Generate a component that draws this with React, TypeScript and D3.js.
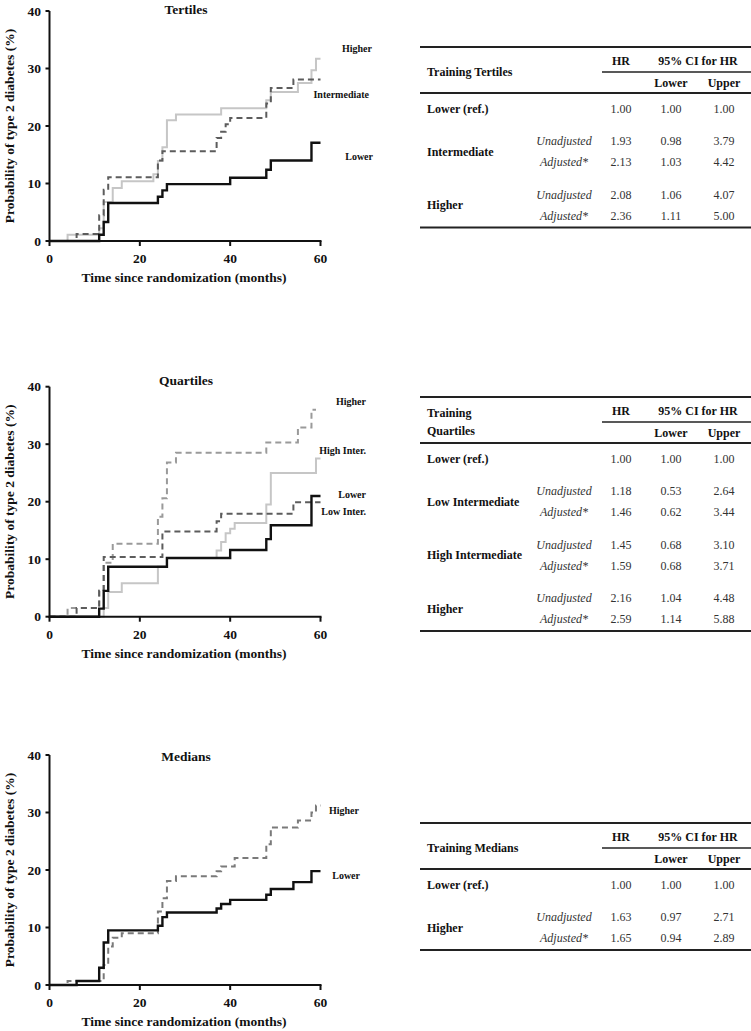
import React from "react";
import * as d3 from "d3";

// step curves: [month, cumulative probability %]
const tertLower = [[0, 0], [11, 1.1], [12, 3.3], [13, 6.6], [24, 7.7], [25, 8.8], [26, 9.9], [40, 11.0], [48, 12.4], [49, 14.0], [58, 17.1], [60, 17.1]];
const tertInter = [[0, 0], [6, 1.2], [11, 4.5], [12, 8.9], [13, 11.1], [24, 14.0], [25, 15.6], [37, 17.9], [38, 19.0], [39, 20.3], [40, 21.4], [48, 23.9], [49, 26.6], [54, 28.1], [60, 28.1]];
const tertHigher = [[0, 0], [4, 1.1], [11, 2.2], [12, 6.8], [14, 9.2], [16, 10.4], [23, 11.6], [24, 13.9], [25, 16.3], [26, 21.0], [28, 22.0], [38, 23.1], [48, 24.5], [49, 25.9], [55, 27.5], [58, 29.7], [59, 31.7], [60, 31.7]];

const quartLower = [[0, 0], [11, 1.4], [12, 4.5], [13, 8.7], [26, 10.2], [40, 11.6], [48, 13.5], [49, 15.9], [58, 21.0], [60, 21.0]];
const quartLowInter = [[0, 0], [6, 1.5], [11, 4.5], [12, 10.4], [25, 14.8], [37, 16.6], [38, 17.9], [54, 19.9], [60, 19.9]];
const quartHighInter = [[0, 0], [12, 1.5], [13, 4.3], [16, 5.8], [24, 8.7], [26, 10.2], [37, 11.5], [38, 13.0], [39, 14.5], [40, 15.3], [41, 16.3], [48, 19.5], [49, 25.0], [59, 27.5], [60, 27.5]];
const quartHigher = [[0, 0], [4, 1.5], [11, 4.5], [12, 9.4], [14, 12.7], [24, 17.4], [25, 20.6], [26, 26.8], [28, 28.5], [48, 30.3], [55, 32.9], [58, 36.0], [59, 36.0]];

const medLower = [[0, 0], [6, 0.7], [11, 3.0], [12, 7.4], [13, 9.5], [24, 10.3], [25, 11.8], [26, 12.6], [37, 13.3], [38, 14.1], [40, 14.8], [48, 15.7], [49, 16.7], [54, 17.9], [58, 19.8], [60, 19.8]];
const medHigher = [[0, 0], [4, 0.7], [12, 3.5], [13, 6.7], [14, 8.2], [16, 9.0], [24, 12.8], [25, 15.1], [26, 18.1], [28, 18.9], [37, 19.8], [38, 20.6], [41, 22.1], [48, 24.5], [49, 27.4], [55, 28.6], [58, 30.0], [59, 31.2], [60, 31.2]];

const xTicks = [0, 20, 40, 60];
const yTicks = [0, 10, 20, 30, 40];

// table values
const tertGroups = ["Lower (ref.)", "Intermediate", "Higher"];
const tertHR = [[1.00], [1.93, 2.13], [2.08, 2.36]];
const tertLo = [[1.00], [0.98, 1.03], [1.06, 1.11]];
const tertUp = [[1.00], [3.79, 4.42], [4.07, 5.00]];

const quartGroups = ["Lower (ref.)", "Low Intermediate", "High Intermediate", "Higher"];
const quartHR = [[1.00], [1.18, 1.46], [1.45, 1.59], [2.16, 2.59]];
const quartLo = [[1.00], [0.53, 0.62], [0.68, 0.68], [1.04, 1.14]];
const quartUp = [[1.00], [2.64, 3.44], [3.10, 3.71], [4.48, 5.88]];

const medGroups = ["Lower (ref.)", "Higher"];
const medHR = [[1.00], [1.63, 1.65]];
const medLo = [[1.00], [0.97, 0.94]];
const medUp = [[1.00], [2.71, 2.89]];

const subLabels = ["Unadjusted", "Adjusted*"];

const FONT = "'Liberation Serif', 'Times New Roman', serif";

const x = d3.scaleLinear().domain([0, 60]).range([49.5, 320.5]);

const KMPanel = ({ top, title, titleY, series, labels }) => {
  const y = d3.scaleLinear().domain([0, 40]).range([top + 230, top]);
  const line = d3.line().x(d => x(d[0])).y(d => y(d[1])).curve(d3.curveStepAfter);
  const y0 = y(0);
  return (
    <g fontFamily={FONT} fill="#111">
      <text x={186} y={titleY} textAnchor="middle" fontWeight="bold" fontSize={13.5}>{title}</text>
      {series.map((s, i) => (
        <path key={i} d={line(s.data)} fill="none" stroke={s.color} strokeWidth={s.width}
          strokeDasharray={s.dash || null} />
      ))}
      <line x1={x(0)} x2={x(0)} y1={y(40)} y2={y0 + 1} stroke="#111" strokeWidth={2} />
      <line x1={x(0) - 1} x2={x(60) + 1} y1={y0} y2={y0} stroke="#111" strokeWidth={2} />
      {yTicks.map(t => (
        <g key={t}>
          <line x1={x(0) - 4} x2={x(0)} y1={y(t)} y2={y(t)} stroke="#111" strokeWidth={2} />
          <text x={41} y={y(t)} dy="0.35em" textAnchor="end" fontWeight="bold" fontSize={13.5}>{t}</text>
        </g>
      ))}
      {xTicks.map(t => (
        <g key={t}>
          <line x1={x(t)} x2={x(t)} y1={y0} y2={y0 + 5} stroke="#111" strokeWidth={2} />
          <text x={x(t)} y={y0 + 22} textAnchor="middle" fontWeight="bold" fontSize={13.5}>{t}</text>
        </g>
      ))}
      <text x={184} y={y0 + 41} textAnchor="middle" fontWeight="bold" fontSize={13.5}>Time since randomization (months)</text>
      <text transform={`translate(9.5,${(y(40) + y0) / 2}) rotate(-90)`} textAnchor="middle" dy="0.35em"
        fontWeight="bold" fontSize={13.5}>Probability of type 2 diabetes (%)</text>
      {labels.map((l, i) => (
        <text key={i} x={l.x} y={l.y} dy="0.35em" textAnchor="end" fontWeight="bold" fontSize={10}>{l.text}</text>
      ))}
    </g>
  );
};

const HRTable = ({ top, titleLines, groups, hr, lo, up }) => {
  const L = 420, R = 751;
  const cHR = 621, cLo = 671, cUp = 724, cSub = 564;
  const refY = top + 62;
  const rows = [];
  groups.forEach((g, gi) => {
    if (gi === 0) {
      rows.push({ label: g, labelY: refY, items: [{ sub: "", y: refY, i: 0 }] });
    } else {
      const uy = top + 94 + (gi - 1) * 53.5;
      rows.push({
        label: g, labelY: uy + 10.5,
        items: [{ sub: subLabels[0], y: uy, i: 0 }, { sub: subLabels[1], y: uy + 21, i: 1 }],
      });
    }
  });
  const last = rows[rows.length - 1].items;
  const bottom = last[last.length - 1].y + 12;
  return (
    <g fontFamily={FONT} fontSize={12} fill="#111">
      <line x1={L} x2={R} y1={top} y2={top} stroke="#222" strokeWidth={2} />
      <text x={cHR} y={top + 14} dy="0.35em" textAnchor="middle" fontWeight="bold">HR</text>
      <text x={(cLo + cUp) / 2 + 0.5} y={top + 14} dy="0.35em" textAnchor="middle" fontWeight="bold">95% CI for HR</text>
      <line x1={602} x2={R} y1={top + 25} y2={top + 25} stroke="#222" strokeWidth={1.5} />
      <text x={cLo} y={top + 36} dy="0.35em" textAnchor="middle" fontWeight="bold">Lower</text>
      <text x={cUp} y={top + 36} dy="0.35em" textAnchor="middle" fontWeight="bold">Upper</text>
      {titleLines.map((t, i) => (
        <text key={i} x={427} y={top + 25 + (i - (titleLines.length - 1) / 2) * 18} dy="0.35em" fontWeight="bold">{t}</text>
      ))}
      <line x1={L} x2={R} y1={top + 46} y2={top + 46} stroke="#222" strokeWidth={2} />
      {rows.map((r, gi) => (
        <g key={gi}>
          <text x={427} y={r.labelY} dy="0.35em" fontWeight="bold">{r.label}</text>
          {r.items.map(it => (
            <g key={it.i}>
              {it.sub && <text x={cSub} y={it.y} dy="0.35em" textAnchor="middle" fontStyle="italic" fill="#333">{it.sub}</text>}
              <text x={cHR} y={it.y} dy="0.35em" textAnchor="middle" fill="#333">{hr[gi][it.i].toFixed(2)}</text>
              <text x={cLo} y={it.y} dy="0.35em" textAnchor="middle" fill="#333">{lo[gi][it.i].toFixed(2)}</text>
              <text x={cUp} y={it.y} dy="0.35em" textAnchor="middle" fill="#333">{up[gi][it.i].toFixed(2)}</text>
            </g>
          ))}
        </g>
      ))}
      <line x1={L} x2={R} y1={bottom} y2={bottom} stroke="#222" strokeWidth={2} />
    </g>
  );
};

const BLACK = "#111";
const LIGHT = "#c6c6c6";
const DARKDASH = "#5c5c5c";
const DASH = "6,4";

export default function App() {
  return (
    <svg width={751} height={1031} style={{ position: "absolute", left: 0, top: 0, background: "#fff" }}>
      <KMPanel top={11} title="Tertiles" titleY={14}
        series={[
          { data: tertHigher, color: LIGHT, width: 2 },
          { data: tertInter, color: DARKDASH, width: 2, dash: DASH },
          { data: tertLower, color: BLACK, width: 2.4 },
        ]}
        labels={[
          { text: "Higher", x: 372, y: 48 },
          { text: "Intermediate", x: 369, y: 94 },
          { text: "Lower", x: 373, y: 156 },
        ]} />
      <KMPanel top={386.7} title="Quartiles" titleY={385}
        series={[
          { data: quartHighInter, color: LIGHT, width: 2 },
          { data: quartHigher, color: "#9a9a9a", width: 2, dash: DASH },
          { data: quartLowInter, color: DARKDASH, width: 2, dash: DASH },
          { data: quartLower, color: BLACK, width: 2.4 },
        ]}
        labels={[
          { text: "Higher", x: 366, y: 401 },
          { text: "High Inter.", x: 366, y: 450 },
          { text: "Lower", x: 366, y: 494 },
          { text: "Low Inter.", x: 366, y: 511 },
        ]} />
      <KMPanel top={755} title="Medians" titleY={760.5}
        series={[
          { data: medHigher, color: "#7a7a7a", width: 2, dash: DASH },
          { data: medLower, color: BLACK, width: 2.4 },
        ]}
        labels={[
          { text: "Higher", x: 359, y: 810 },
          { text: "Lower", x: 360, y: 875 },
        ]} />
      <HRTable top={47} titleLines={["Training Tertiles"]} groups={tertGroups} hr={tertHR} lo={tertLo} up={tertUp} />
      <HRTable top={397} titleLines={["Training", "Quartiles"]} groups={quartGroups} hr={quartHR} lo={quartLo} up={quartUp} />
      <HRTable top={823} titleLines={["Training Medians"]} groups={medGroups} hr={medHR} lo={medLo} up={medUp} />
    </svg>
  );
}
